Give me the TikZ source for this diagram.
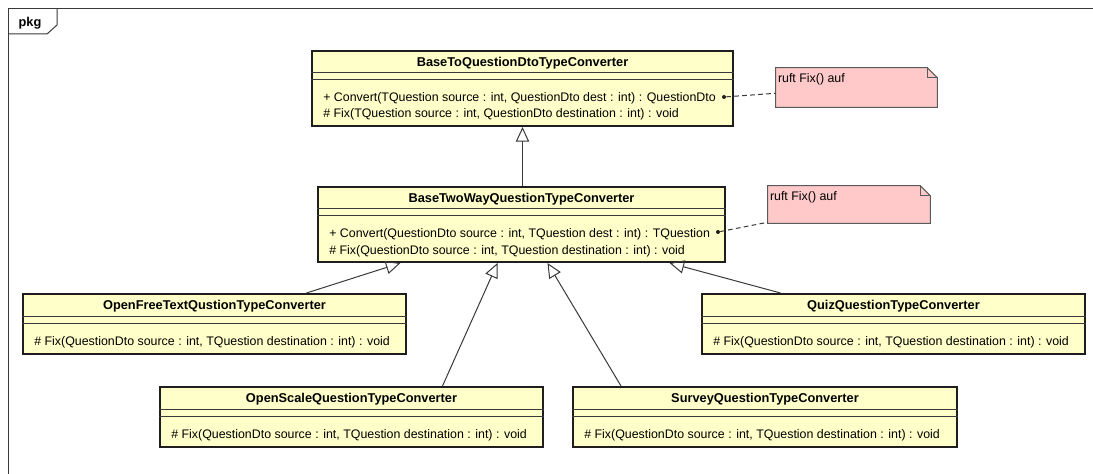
\documentclass[tikz,border=0pt]{standalone}
\usepackage{fontspec}
\setmainfont{Liberation Sans}
\usetikzlibrary{calc,fit,arrows.meta}

\definecolor{umlLine}{HTML}{1E1E1E}
\definecolor{umlGrey}{HTML}{3A3A3A}
\definecolor{clsFill}{HTML}{FFFFCA}
\definecolor{noteFill}{HTML}{FFC9C9}
\definecolor{noteLine}{HTML}{5A5A5A}

% class box: name, west, north, east, south, title, list of operations
\newcommand{\umlclass}[7]{%
  \node[clsbox, fit={(#2,#3) (#4,#5)}] (#1) {};
  \node[clsname] (#1-name) at ($(#1.north)+(0,13)$) {#6};
  \draw[clssep] ($(#1.north west)+(0,23)$) -- ($(#1.north east)+(0,23)$);
  \draw[clssep] ($(#1.north west)+(0,30)$) -- ($(#1.north east)+(0,30)$);
  \foreach \op [count=\i] in {#7}
    \node[clsop] (#1-op\i) at ($(#1.north west)+(12,36+16*\i)$) {\op};
}

% note with folded corner
\newcommand{\umlnote}[6]{%
  \node[inner sep=0pt, fit={(#2,#3) (#4,#5)}] (#1) {};
  \filldraw[notebody] (#1.south west) -- (#1.north west)
    -- ($(#1.north east)+(-10,0)$) -- ($(#1.north east)+(0,10)$)
    -- (#1.south east) -- cycle;
  \draw[notebody, fill=none] ($(#1.north east)+(-10,0)$) |- ($(#1.north east)+(0,10)$);
  \node[notetext] (#1-text) at ($(#1.north west)+(2,12)$) {#6};
}

\begin{document}
\begin{tikzpicture}[x=0.75pt, y=-0.75pt,
  clsbox/.style={draw=umlLine, line width=1.5pt, fill=clsFill, inner sep=0pt},
  clssep/.style={draw=umlGrey, line width=0.75pt},
  clsname/.style={font=\fontsize{9.6pt}{11pt}\selectfont\bfseries, inner sep=0pt},
  clsop/.style={font=\fontsize{9.3pt}{11pt}\selectfont, anchor=base west, inner sep=0pt},
  notebody/.style={draw=noteLine, line width=0.75pt, fill=noteFill},
  notetext/.style={font=\fontsize{9.3pt}{11pt}\selectfont, anchor=west, inner sep=0pt},
  gen/.style={-{Triangle[open, length=11pt, width=10pt]}, draw=umlGrey, line width=0.75pt},
  link/.style={draw=umlGrey, line width=0.75pt, dash pattern=on 3.5pt off 2.5pt},
  dot/.style={circle, fill=umlLine, inner sep=0pt, minimum size=3pt}
]
  \fill[white] (0,0) rectangle (1093,474);
  \useasboundingbox (0,0) rectangle (1093,474);

  % package frame
  \draw[umlGrey, line width=0.75pt] (8,474) -- (8,9) -- (1093,9);
  \draw[umlGrey, line width=0.75pt] (57,9) -- (57,25) -- (47,34) -- (8,34);
  \node[font=\fontsize{9.6pt}{11pt}\selectfont\bfseries, inner sep=0pt] (pkg) at (30,23) {pkg};

  % classes
  \umlclass{base}{312}{51}{733}{126}{BaseToQuestionDtoTypeConverter}
    {{+ Convert(TQuestion source : int, QuestionDto dest : int) : QuestionDto},
     {\# Fix(TQuestion source : int, QuestionDto destination : int) : void}}
  \umlclass{twoway}{318}{187}{725}{262}{BaseTwoWayQuestionTypeConverter}
    {{+ Convert(QuestionDto source : int, TQuestion dest : int) : TQuestion},
     {\# Fix(QuestionDto source : int, TQuestion destination : int) : void}}
  \umlclass{freetext}{23}{294}{406}{354}{OpenFreeTextQustionTypeConverter}
    {{\# Fix(QuestionDto source : int, TQuestion destination : int) : void}}
  \umlclass{quiz}{702}{294}{1085}{354}{QuizQuestionTypeConverter}
    {{\# Fix(QuestionDto source : int, TQuestion destination : int) : void}}
  \umlclass{scale}{160}{387}{543}{447}{OpenScaleQuestionTypeConverter}
    {{\# Fix(QuestionDto source : int, TQuestion destination : int) : void}}
  \umlclass{survey}{573}{387}{957}{447}{SurveyQuestionTypeConverter}
    {{\# Fix(QuestionDto source : int, TQuestion destination : int) : void}}

  % notes
  \umlnote{note1}{776}{68}{937}{107}{ruft Fix() auf}
  \umlnote{note2}{768}{186}{930}{223}{ruft Fix() auf}

  % generalizations
  \draw[gen] ($(twoway.north)+(1,0)$) -- ($(base.south)+(0,0)$);
  \draw[gen] ($(freetext.north)+(92,0)$) -- ($(twoway.south)+(-121,0)$);
  \draw[gen] ($(scale.north)+(91,0)$) -- ($(twoway.south)+(-24,0)$);
  \draw[gen] ($(survey.north)+(-144,0)$) -- ($(twoway.south)+(26,0)$);
  \draw[gen] ($(quiz.north)+(-113,0)$) -- ($(twoway.south)+(148,0)$);

  % note links
  \node[dot] (base-dot) at ($(base.north east)+(-10,47)$) {};
  \node[dot] (twoway-dot) at ($(twoway.north east)+(-8,46)$) {};
  \draw[link] (base-dot) -- ($(note1.south west)+(0,-14)$);
  \draw[link] (twoway-dot) -- ($(note2.south west)+(0,-1)$);
\end{tikzpicture}
\end{document}
